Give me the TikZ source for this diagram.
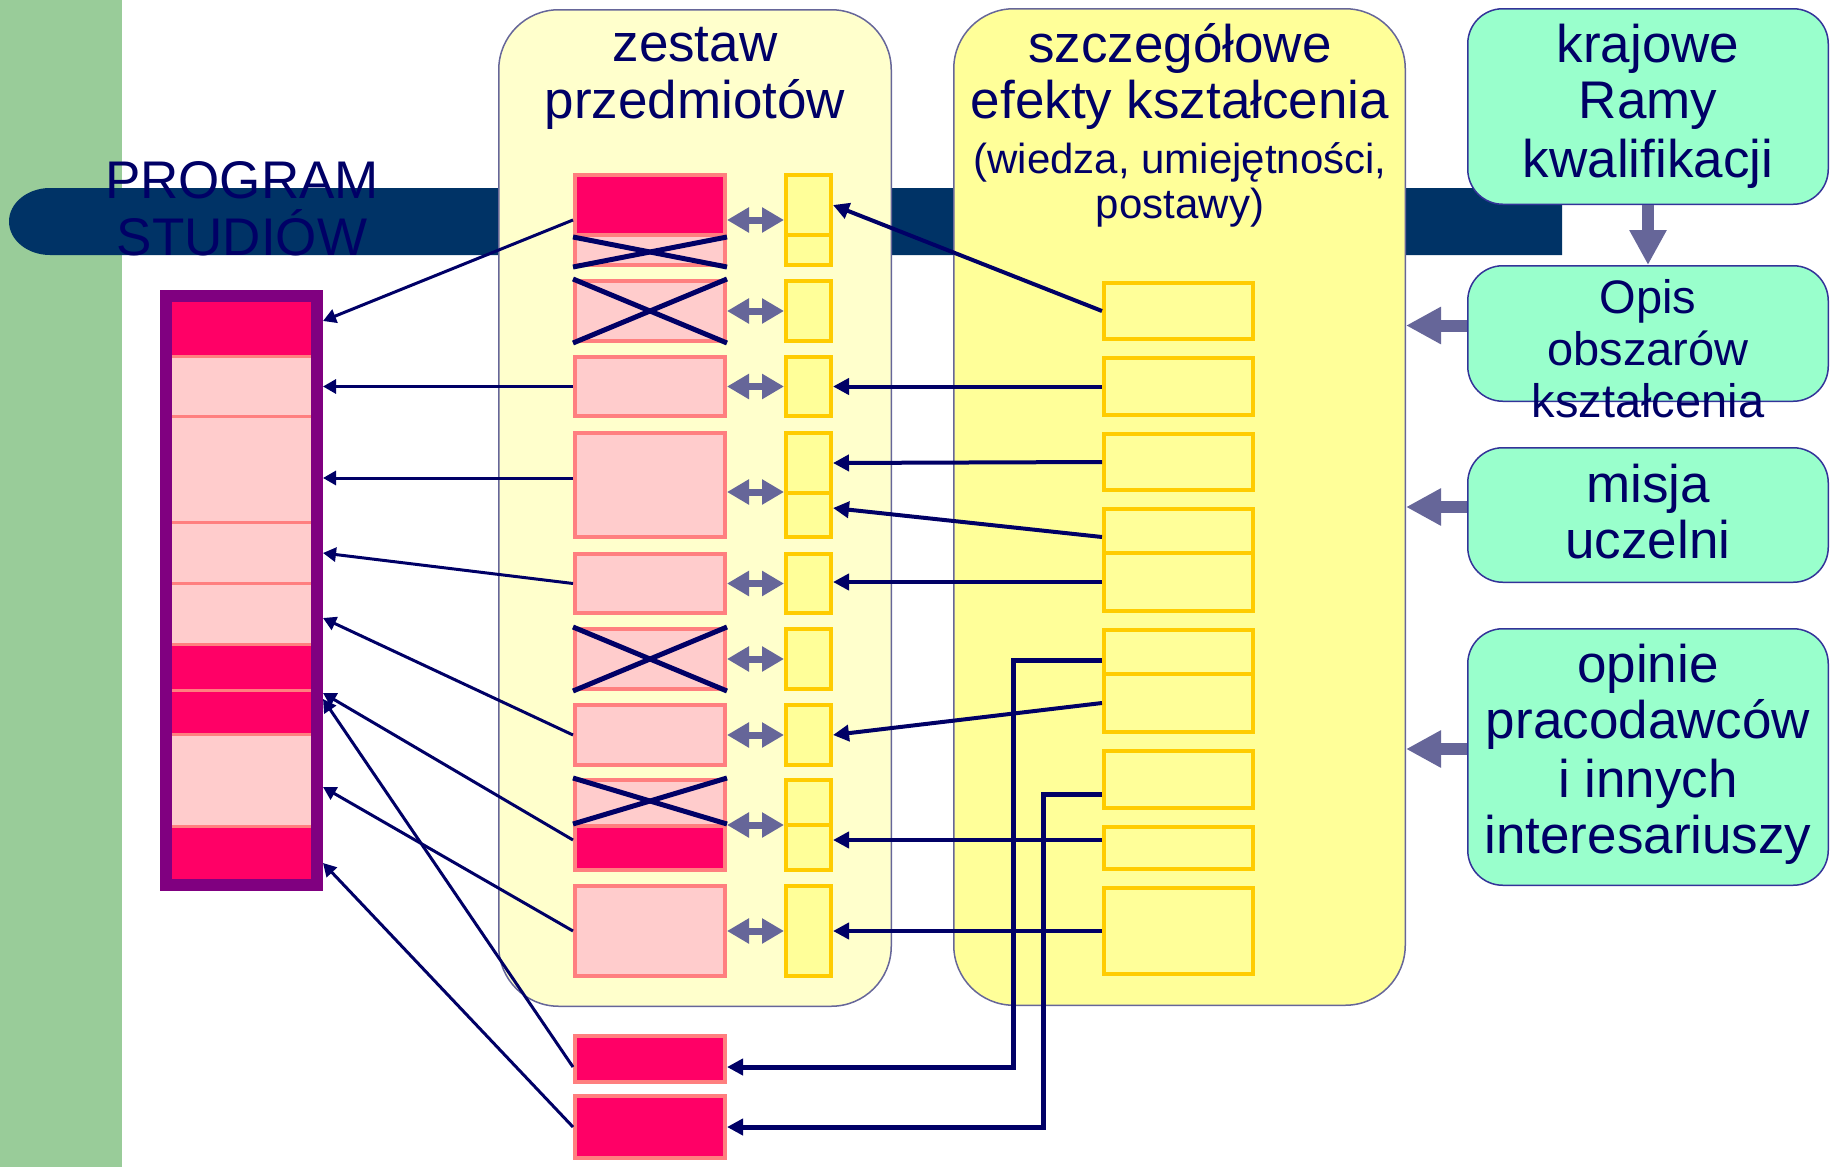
\documentclass[tikz,border=0pt]{standalone}
\usepackage{fontspec}
\setmainfont{Liberation Sans}
\usetikzlibrary{arrows.meta,calc}
\definecolor{navy}{HTML}{000066}
\definecolor{leftgreen}{HTML}{99CC99}
\definecolor{barblue}{HTML}{003366}
\definecolor{purp}{HTML}{800080}
\definecolor{hotred}{HTML}{FF0066}
\definecolor{lpink}{HTML}{FFCCCC}
\definecolor{salmon}{HTML}{FF7F7F}
\definecolor{paneA}{HTML}{FFFFCC}
\definecolor{paneB}{HTML}{FFFF99}
\definecolor{paneline}{HTML}{666699}
\definecolor{gold}{HTML}{FFCC00}
\definecolor{mint}{HTML}{99FFCC}
\definecolor{mintline}{HTML}{333399}
\definecolor{slate}{HTML}{666699}
\newcommand{\fbig}{\fontsize{53}{56}\selectfont}
\newcommand{\fmid}{\fontsize{47}{52}\selectfont}
\newcommand{\fsml}{\fontsize{42}{45}\selectfont}
% box by outer extents: style, name, x1, y1, x2, y2, line width
\newcommand{\bx}[7]{\node[#1, minimum width={(#5)-(#3)-(#7)}, minimum height={(#6)-(#4)-(#7)}] (#2) at ({((#3)+(#5))/2},{((#4)+(#6))/2}) {};}
\tikzset{
  pinkbox/.style={rectangle, draw=salmon, fill=lpink, line width=4pt, inner sep=0pt},
  redbox/.style={pinkbox, fill=hotred},
  ybox/.style={rectangle, draw=gold, fill=paneB, line width=4pt, inner sep=0pt},
  rowcell/.style={rectangle, draw=salmon, line width=3pt, inner sep=0pt, outer sep=0pt},
  progframe/.style={rectangle, draw=purp, line width=12pt, inner sep=0pt},
  panel/.style={rectangle, draw=paneline, line width=1.5pt, rounded corners=60pt, inner sep=0pt},
  greenbox/.style={rectangle, draw=mintline, fill=mint, line width=1.5pt, rounded corners=35pt, inner sep=0pt},
  crossline/.style={navy, line width=5pt},
  thinarr/.style={navy, line width=3pt, -{Triangle[length=13pt,width=14pt]}},
  midarr/.style={navy, line width=4pt, -{Triangle[length=16pt,width=16pt]}},
  elbarr/.style={navy, line width=5pt, -{Triangle[length=16pt,width=16pt]}},
  dblarr/.style={slate, line width=7pt, {Triangle[length=22pt,width=24pt]}-{Triangle[length=22pt,width=24pt]}},
  blkarr/.style={slate, line width=12pt, -{Triangle[length=35pt,width=35pt]}},
  txt/.style={text=navy, anchor=base, inner sep=0pt, font=\fbig},
}
\begin{document}
\begin{tikzpicture}[x=1pt,y=-1pt]
\useasboundingbox (0,0) rectangle (1832,1167);
\fill[white] (0,0) rectangle (1832,1167);
\fill[leftgreen] (0,0) rectangle (122,1167);
\fill[barblue] (1562,188) -- (50,188) .. controls (27.4,188) and (9,203) .. (9,221.5) .. controls (9,240) and (27.4,255) .. (50,255) -- (1562,255) -- cycle;

% panels
\bx{panel, fill=paneA}{pan1}{498}{9}{892}{1007}{1.5}
\bx{panel, fill=paneB}{pan2}{953}{8}{1406}{1006}{1.5}

% green boxes
\bx{greenbox}{kraj}{1467}{8}{1829}{205}{1.5}
\bx{greenbox}{opis}{1467}{265}{1829}{402}{1.5}
\bx{greenbox}{misja}{1467}{447}{1829}{583}{1.5}
\bx{greenbox}{opin}{1467}{628}{1829}{886}{1.5}

% titles
\node[txt] (ps1) at (242,198) {PROGRAM};
\node[txt] (ps2) at (242,255) {STUDIÓW};
\node[txt] (z1) at (695,61) {zestaw};
\node[txt] (z2) at (695,118) {przedmiotów};
\node[txt] (s1) at (1180,62) {szczegółowe};
\node[txt] (s2) at (1180,118) {efekty kształcenia};
\node[txt, font=\fsml] (s3) at (1180,173) {(wiedza, umiejętności,};
\node[txt, font=\fsml] (s4) at (1180,218) {postawy)};
\node[txt] (k1) at (1648,62) {krajowe};
\node[txt] (k2) at (1648,118) {Ramy};
\node[txt] (k3) at (1648,177) {kwalifikacji};
\node[txt, font=\fmid] (o1) at (1648,313) {Opis};
\node[txt, font=\fmid] (o2) at (1648,365) {obszarów};
\node[txt, font=\fmid] (o3) at (1648,417) {kształcenia};
\node[txt] (m1) at (1648,502) {misja};
\node[txt] (m2) at (1648,558) {uczelni};
\node[txt] (p1) at (1648,682) {opinie};
\node[txt] (p2) at (1648,738) {pracodawców};
\node[txt] (p3) at (1648,797) {i innych};
\node[txt] (p4) at (1648,853) {interesariuszy};

% block arrows on the right
\draw[blkarr] (kraj.south) -- (opis.north);
\draw[blkarr] ([yshift=8pt]opis.west) -- ([yshift=8pt]opis.west -| pan2.east);
\draw[blkarr] ([yshift=8pt]misja.west) -- ([yshift=8pt]misja.west -| pan2.east);
\draw[blkarr] ([yshift=8pt]opin.west) -- ([yshift=8pt]opin.west -| pan2.east);

% programme column
\bx{rowcell, fill=hotred}{r1}{170}{296}{313}{356.5}{0}
\bx{rowcell, fill=lpink}{r2}{170}{356.5}{313}{416.5}{0}
\bx{rowcell, fill=lpink}{r3}{170}{416.5}{313}{522}{0}
\bx{rowcell, fill=lpink}{r4}{170}{522}{313}{583}{0}
\bx{rowcell, fill=lpink}{r5}{170}{583}{313}{644}{0}
\bx{rowcell, fill=hotred}{r6}{170}{644}{313}{690}{0}
\bx{rowcell, fill=hotred}{r7}{170}{690}{313}{734}{0}
\bx{rowcell, fill=lpink}{r8}{170}{734}{313}{826}{0}
\bx{rowcell, fill=hotred}{r9}{170}{826}{313}{885}{0}
\bx{progframe}{prog}{160}{290}{323}{891}{12}

% course set
\bx{pinkbox}{A}{573}{173}{727}{267}{4}
\bx{redbox}{Aup}{573}{173}{727}{237}{4}
\bx{pinkbox}{B}{573}{279}{727}{343}{4}
\bx{pinkbox}{C}{573}{355}{727}{418}{4}
\bx{pinkbox}{D}{573}{431}{727}{539}{4}
\bx{pinkbox}{E}{573}{552}{727}{615}{4}
\bx{pinkbox}{F}{573}{627}{727}{691}{4}
\bx{pinkbox}{G}{573}{703}{727}{767}{4}
\bx{pinkbox}{H}{573}{778}{727}{872}{4}
\bx{redbox}{Hlow}{573}{824}{727}{872}{4}
\bx{pinkbox}{I}{573}{884}{727}{978}{4}
\bx{redbox}{red1}{573}{1034}{727}{1084}{4}
\bx{redbox}{red2}{573}{1094}{727}{1160}{4}

% crosses
\draw[crossline] (Aup.south west) -- (A.south east);
\draw[crossline] (A.south west) -- (Aup.south east);
\draw[crossline] (B.north west) -- (B.south east);
\draw[crossline] (B.south west) -- (B.north east);
\draw[crossline] (F.north west) -- (F.south east);
\draw[crossline] (F.south west) -- (F.north east);
\draw[crossline] (H.north west) -- (Hlow.north east);
\draw[crossline] (Hlow.north west) -- (H.north east);

% small yellow boxes
\bx{ybox}{Ay2}{784}{233}{833}{267}{4}
\bx{ybox}{Ay1}{784}{173}{833}{237}{4}
\bx{ybox}{By}{784}{279}{833}{343}{4}
\bx{ybox}{Cy}{784}{355}{833}{418}{4}
\bx{ybox}{Dy2}{784}{491}{833}{539}{4}
\bx{ybox}{Dy1}{784}{431}{833}{495}{4}
\bx{ybox}{Ey}{784}{552}{833}{615}{4}
\bx{ybox}{Fy}{784}{627}{833}{691}{4}
\bx{ybox}{Gy}{784}{703}{833}{767}{4}
\bx{ybox}{Hy2}{784}{823}{833}{872}{4}
\bx{ybox}{Hy1}{784}{778}{833}{827}{4}
\bx{ybox}{Iy}{784}{884}{833}{978}{4}

% double arrows
\draw[dblarr] (A.east) -- (A.east -| Ay1.west);
\draw[dblarr] (B.east) -- (B.east -| By.west);
\draw[dblarr] (C.east) -- (C.east -| Cy.west);
\draw[dblarr] ([yshift=-7pt]D.east) -- ([yshift=-7pt]D.east -| Dy1.west);
\draw[dblarr] (E.east) -- (E.east -| Ey.west);
\draw[dblarr] (F.east) -- (F.east -| Fy.west);
\draw[dblarr] (G.east) -- (G.east -| Gy.west);
\draw[dblarr] (H.east) -- (H.east -| Hy1.west);
\draw[dblarr] (I.east) -- (I.east -| Iy.west);

% learning outcome boxes
\bx{ybox}{b1}{1102}{281}{1255}{341}{4}
\bx{ybox}{b2}{1102}{356}{1255}{417}{4}
\bx{ybox}{b3}{1102}{432}{1255}{492}{4}
\bx{ybox}{b4l}{1102}{551}{1255}{613}{4}
\bx{ybox}{b4u}{1102}{507}{1255}{555}{4}
\bx{ybox}{b5l}{1102}{672}{1255}{734}{4}
\bx{ybox}{b5u}{1102}{628}{1255}{676}{4}
\bx{ybox}{b6}{1102}{749}{1255}{810}{4}
\bx{ybox}{b7}{1102}{825}{1255}{871}{4}
\bx{ybox}{b8}{1102}{886}{1255}{976}{4}

% outcomes -> courses
\draw[midarr] (b1.west) -- (Ay1.east);
\draw[midarr] (b2.west) -- (b2.west -| Cy.east);
\draw[midarr] (b3.west) -- (Dy1.east);
\draw[midarr] ([yshift=-6pt]b4u.west) -- ([yshift=7pt]Dy2.east);
\draw[midarr] (b4l.west) -- (b4l.west -| Ey.east);
\draw[midarr] (b5l.west) -- (Gy.east);
\draw[midarr] ([yshift=8pt]b7.west) -- ([yshift=8pt]b7.west -| Hy2.east);
\draw[midarr] (b8.west) -- (b8.west -| Iy.east);
\draw[elbarr] ([yshift=-8pt]b5u.west) -- ++(-89,0) |- ([yshift=-8pt]red1.east);
\draw[elbarr] ([yshift=-15pt]b6.west) -- ++(-59,0) |- (red2.east);

% courses -> programme
\draw[thinarr] (A.west) -- ([yshift=269.5pt]prog.east);
\draw[thinarr] (C.west) -- (C.west -| prog.east);
\draw[thinarr] ([yshift=7pt]D.west) -- ([yshift=7pt]D.west -| prog.east);
\draw[thinarr] (E.west) -- ([yshift=37.5pt]prog.east);
\draw[thinarr] (G.west) -- ([yshift=-27.5pt]prog.east);
\draw[thinarr] ([yshift=-15pt]H.west) -- ([yshift=-102.5pt]prog.east);
\draw[thinarr] ([yshift=-8pt]red1.west) -- ([yshift=-108.5pt]prog.east);
\draw[thinarr] (I.west) -- ([yshift=-196.5pt]prog.east);
\draw[thinarr] (red2.west) -- ([yshift=-272.5pt]prog.east);
\end{tikzpicture}
\end{document}
